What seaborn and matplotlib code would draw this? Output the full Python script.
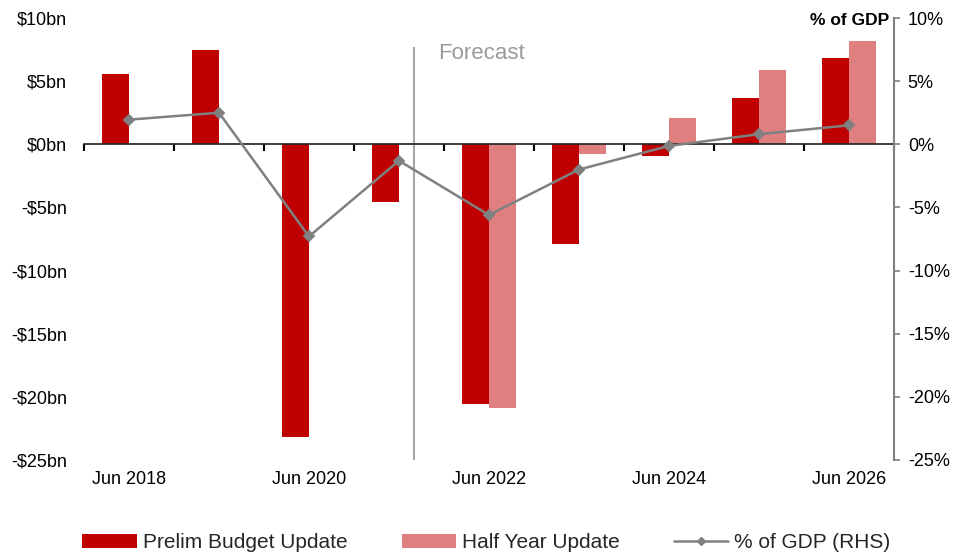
import numpy as np
import pandas as pd
import matplotlib
matplotlib.use("Agg")
import matplotlib.pyplot as plt
from matplotlib.lines import Line2D
import seaborn as sns

# Budget balance by financial year, $bn, and balance as % of GDP
years = ["Jun 2018", "Jun 2019", "Jun 2020", "Jun 2021", "Jun 2022",
         "Jun 2023", "Jun 2024", "Jun 2025", "Jun 2026"]
prelim_budget = [5.55, 7.5, -23.2, -4.6, -20.6, -7.9, -0.93, 3.7, 6.8]
half_year = [np.nan, np.nan, np.nan, np.nan, -20.9, -0.74, 2.1, 5.9, 8.2]
pct_gdp = [1.95, 2.5, -7.3, -1.3, -5.6, -2.0, -0.13, 0.8, 1.5]

series_names = ["Prelim Budget Update", "Half Year Update"]
line_name = "% of GDP (RHS)"
left_ticks = [-25, -20, -15, -10, -5, 0, 5, 10]
shown_years = ["Jun 2018", "Jun 2020", "Jun 2022", "Jun 2024", "Jun 2026"]
forecast_start = 3.17  # first forecast period, in category units

RED = "#C00000"
PINK = "#DF7F7F"
GREY = "#808080"

sns.set_theme(style="white")
plt.rcParams["font.family"] = ["Liberation Sans", "DejaVu Sans"]

df = pd.DataFrame({
    "year": years * 2,
    "value": prelim_budget + half_year,
    "series": [series_names[0]] * len(years) + [series_names[1]] * len(years),
})

fig = plt.figure(figsize=(9.54, 5.54), dpi=100)
ax = fig.add_axes([0.088, 0.1697, 0.849, 0.7978])

sns.barplot(data=df, x="year", y="value", hue="series", order=years,
            hue_order=series_names, palette=[RED, PINK], width=0.6,
            saturation=1, linewidth=0, ax=ax, legend=True)
bar_handles, bar_labels = ax.get_legend_handles_labels()
ax.get_legend().remove()

ylim = (left_ticks[0], left_ticks[-1])
ax.set_ylim(*ylim)
ax.set_xlim(-0.5, len(years) - 0.5)
ax.set_xlabel("")
ax.set_ylabel("")
for s in ["top", "right", "bottom", "left"]:
    ax.spines[s].set_visible(False)

ax.set_yticks(left_ticks)
ax.set_yticklabels([f"-${abs(v)}bn" if v < 0 else f"${v}bn" for v in left_ticks])
ax.tick_params(axis="y", length=0, pad=12, labelsize=13, labelcolor="black")
ax.set_xticks([years.index(y) for y in shown_years])
ax.set_xticklabels(shown_years)
ax.tick_params(axis="x", length=0, pad=8, labelsize=13, labelcolor="black")

# Zero line with category divider ticks
zero_frac = (0 - ylim[0]) / (ylim[1] - ylim[0])
zx = ax.secondary_xaxis(zero_frac)
zx.set_xticks(np.arange(len(years) + 1) - 0.5)
zx.set_xticklabels([])
zx.tick_params(axis="x", direction="in", length=5, width=1.5, color="black")
zx.spines["bottom"].set_color("black")
zx.spines["bottom"].set_linewidth(1.5)
zx.set_zorder(5)

# Forecast divider
ax.vlines(forecast_start, ylim[0], 7.7, color="#A6A6A6", lw=1.5, zorder=1)
ax.text(forecast_start + 0.27, 7.2, "Forecast", fontsize=16, color="#9A9A9A",
        ha="left", va="center")

# Right axis: % of GDP
ax2 = ax.twinx()
sns.pointplot(x=years, y=pct_gdp, order=years, color=GREY, markers="D",
              markersize=5.5, linewidth=1.8, errorbar=None, ax=ax2)
ax2.set_ylim(*ylim)
ax2.set_xlim(-0.5, len(years) - 0.5)
ax2.set_yticks(left_ticks)
ax2.set_yticklabels([f"{v}%" for v in left_ticks])
ax2.tick_params(axis="y", direction="out", length=4, width=1.2, color=GREY,
                pad=6, labelsize=13, labelcolor="black")
for s in ["top", "left", "bottom"]:
    ax2.spines[s].set_visible(False)
ax2.spines["right"].set_color(GREY)
ax2.spines["right"].set_linewidth(1.5)
ax2.text(0.994, 0.995, "% of GDP", transform=ax2.transAxes, ha="right",
         va="center", fontsize=12.5, fontweight="bold", color="black")

line_handle = Line2D([], [], color=GREY, lw=1.8, marker="D", markersize=4.5)
fig.legend(bar_handles + [line_handle], bar_labels + [line_name],
           loc="center", bbox_to_anchor=(0.51, 0.02), ncol=3, frameon=False,
           fontsize=15, handlelength=2.6, handleheight=0.7, handletextpad=0.3,
           columnspacing=2.6)

fig.savefig("out.png", dpi=100)
